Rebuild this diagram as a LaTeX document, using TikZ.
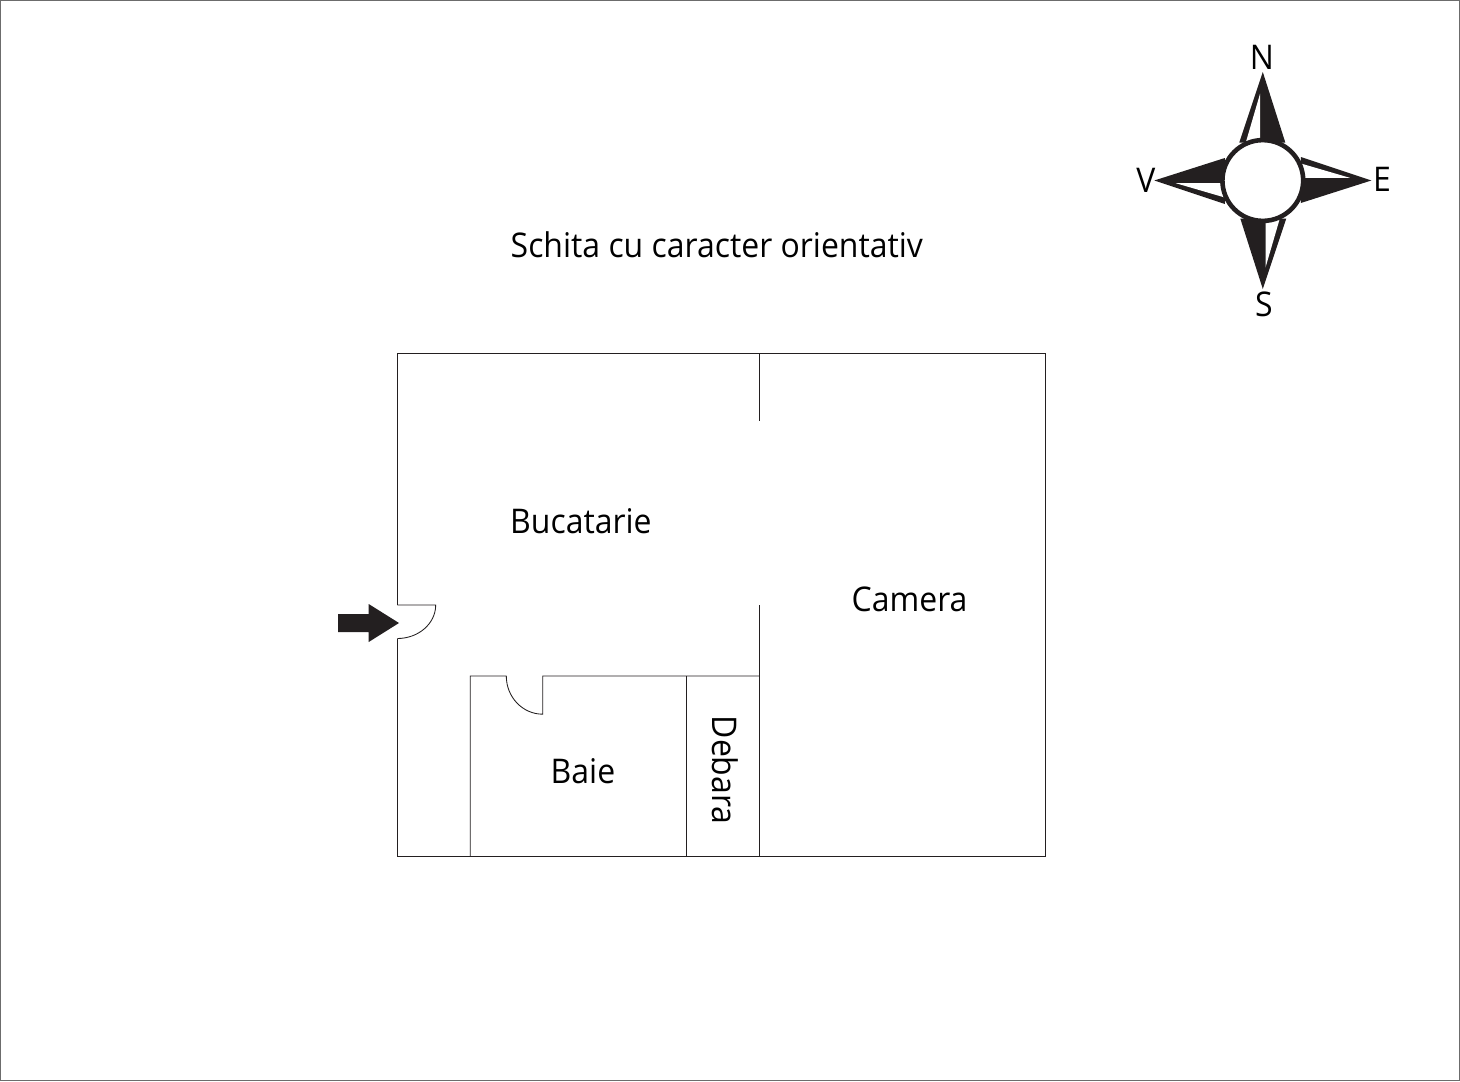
\documentclass[tikz,border=0pt]{standalone}
\usepackage{fontspec}
\setmainfont[FakeStretch=0.94]{Open Sans}
\definecolor{ink}{HTML}{231F20}
\tikzset{
  wall/.style={draw=ink,line width=0.85pt},
  label/.style={text=black,inner sep=0pt,anchor=base west,font=\fontsize{34}{40}\selectfont},
  cardinal/.style={text=black,inner sep=0pt,anchor=base,font=\fontsize{34}{40}\selectfont},
}
\begin{document}
\begin{tikzpicture}[x=1pt,y=1pt]
\useasboundingbox (0,0) rectangle (1460,-1082);
\fill[white] (0,0) rectangle (1460,-1082);
\draw[draw=gray!85!black,line width=1.3pt] (0.7,-0.7) rectangle (1459.3,-1080.8);
% walls
\draw[wall] (397.4,-605) -- (397.4,-353) -- (1045.8,-353) -- (1045.8,-856) -- (397.4,-856) -- (397.4,-638.5);
\draw[wall] (397.4,-605) -- (435.7,-605) .. controls (435.7,-623.5) and (418.5,-638.5) .. (397.4,-638.5);
\draw[wall] (759.6,-353) -- (759.6,-421);
\draw[wall] (759.6,-605) -- (759.6,-856);
\draw[wall] (470.2,-856) -- (470.2,-676) -- (506.3,-676) .. controls (506.3,-697) and (522.5,-714.2) .. (542.8,-714.2) -- (542.8,-676) -- (759.6,-676);
\draw[wall] (686.8,-676) -- (686.8,-856);
% entrance arrow
\fill[ink] (338,-614) -- (368.7,-614) -- (368.7,-604) -- (399,-623) -- (368.7,-642) -- (368.7,-632) -- (338,-632) -- cycle;
% compass
\begin{scope}[shift={(1262.8,-180.5)}]
\foreach \a in {0,-90,-180,-270}{
  \begin{scope}[rotate=\a]
    \fill[ink] (0,108.5) -- (22.5,38) -- (-23.5,38) -- cycle;
    \fill[white] (-2.7,87) -- (-2.7,36) -- (-17.6,36) -- cycle;
  \end{scope}
}
\draw[ink,fill=white,line width=4.6pt] (0,0) circle (40.4);
\end{scope}
% labels
\node[label] (title) at (510.5,-257) {Schita cu caracter orientativ};
\node[label] (bucatarie) at (510,-533) {Bucatarie};
\node[label] (camera) at (851.5,-611) {Camera};
\node[label] (baie) at (550.5,-783) {Baie};
\node[label,rotate=-90] (debara) at (712,-715.5) {Debara};
\node[cardinal] (n) at (1262,-69) {N};
\node[cardinal] (s) at (1264,-316) {S};
\node[cardinal] (v) at (1146,-192) {V};
\node[cardinal] (e) at (1382,-191) {E};
\end{tikzpicture}
\end{document}
